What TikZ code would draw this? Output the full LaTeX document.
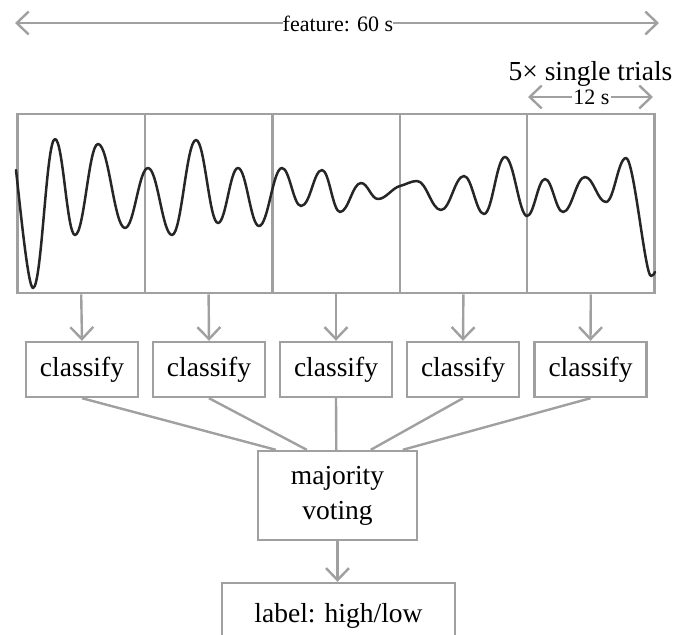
\documentclass[tikz,border=0pt]{standalone}
\usepackage{fontspec}
\setmainfont{Liberation Serif}
\usetikzlibrary{arrows.meta,calc}
\definecolor{lineg}{RGB}{160,160,160}
\tikzset{
  big/.style={font=\fontsize{27.5}{35}\selectfont},
  small/.style={font=\fontsize{22}{26}\selectfont},
  gline/.style={draw=lineg, line width=2.4pt},
  tip/.style={-{Straight Barb[length=12pt,width=23pt,line width=2.4pt]}},
  seg/.style={gline, minimum width=127.4pt, minimum height=179.5pt, inner sep=0pt},
  clsbox/.style={gline, big, minimum width=112pt, minimum height=55pt, inner sep=0pt},
  signal/.style={draw=black!85, line width=2.5pt, line join=round, line cap=round}
}
\begin{document}
\begin{tikzpicture}[x=1pt,y=-1pt]
\useasboundingbox (0,0) rectangle (678,635);
\clip (0,0) rectangle (678,635);
% top dimension arrow
\node[small, inner sep=0pt] (feat) at (338,24) {feature: 60 s};
\coordinate (fl) at (15,23);
\coordinate (fr) at (659,23);
\draw[gline, tip] (feat.west |- fl) -- (fl);
\draw[gline, tip] (feat.east |- fr) -- (fr);
% single trials
\node[big, anchor=base, inner sep=0pt] (trials) at (590.5,80) {5× single trials};
\node[small, inner sep=1pt] (twelve) at (591.5,97.5) {12 s};
\coordinate (tl) at (528,97);
\coordinate (tr) at (653,97);
\draw[gline, tip] (twelve.west |- tl) -- (tl);
\draw[gline, tip] (twelve.east |- tr) -- (tr);
% segments
\foreach \i/\x in {1/81.2,2/208.6,3/336,4/463.4,5/590.8}{
  \node[seg] (s\i) at (\x,203.5) {};
}
% signal
\draw[signal] (16,170) .. controls (20,205) and (28,288) .. (33,288)
 .. controls (41.8,288) and (46.2,139) .. (55,139)
 .. controls (63,139) and (67,235) .. (75,235)
 .. controls (84.2,235) and (88.8,144) .. (98,144)
 .. controls (108.8,144) and (114.2,228) .. (125,228)
 .. controls (134.2,228) and (138.8,168) .. (148,168)
 .. controls (157.6,168) and (162.4,235) .. (172,235)
 .. controls (181.6,235) and (186.4,140) .. (196,140)
 .. controls (204.8,140) and (209.2,223) .. (218,223)
 .. controls (226,223) and (230,168) .. (238,168)
 .. controls (246.4,168) and (250.6,226) .. (259,226)
 .. controls (268.2,226) and (272.8,168) .. (282,168)
 .. controls (289.6,168) and (293.4,206) .. (301,206)
 .. controls (310.4,206) and (313.6,170) .. (322,170)
 .. controls (329.2,170) and (332.8,212) .. (340,212)
 .. controls (348.4,212) and (352.6,183) .. (361,183)
 .. controls (367.8,183) and (371.2,199) .. (378,199)
 .. controls (386,199) and (392,188) .. (400,186)
 .. controls (406,184.5) and (411,181) .. (417,181)
 .. controls (426.6,181) and (431.4,210) .. (441,210)
 .. controls (450.2,210) and (454.8,176) .. (464,176)
 .. controls (472,176) and (476,214) .. (484,214)
 .. controls (492.4,214) and (496.6,157) .. (505,157)
 .. controls (513.8,157) and (519,216) .. (527,216)
 .. controls (534.2,216) and (537.8,179) .. (545,179)
 .. controls (552.2,179) and (555.8,212) .. (563,212)
 .. controls (571.8,212) and (576.2,177) .. (585,177)
 .. controls (593.4,177) and (597.6,202) .. (606,202)
 .. controls (614,202) and (618,158) .. (626,158)
 .. controls (634,158) and (645,276) .. (651,276)
 .. controls (653,276) and (654,274) .. (655,272);
% classify boxes
\foreach \i/\x in {1/82,2/209,3/336,4/463,5/590.5}{
  \node[clsbox] (c\i) at (\x,369.5) {classify};
  \draw[gline, tip] (s\i.south) -- (c\i.north);
}
% majority voting
\node[gline, big, align=center, minimum width=159pt, minimum height=89pt, inner sep=0pt] (maj) at (337.5,495.5) {majority\\voting};
\foreach \i/\d in {1/19,2/50,3/79.5,4/114,5/146}{
  \draw[gline] (c\i.south) -- ($(maj.north west)+(\d,0)$);
}
% label
\node[gline, big, minimum width=233pt, minimum height=65pt, inner sep=0pt] (lab) at (338.5,615.5) {label: high/low};
\draw[gline, tip] (maj.south) -- (maj.south |- lab.north);
\end{tikzpicture}
\end{document}
